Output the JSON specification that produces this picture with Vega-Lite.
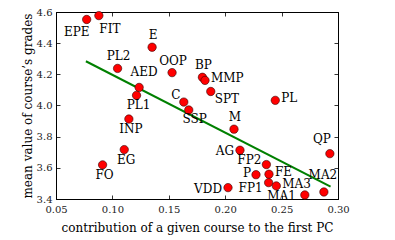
{
  "$schema": "https://vega.github.io/schema/vega-lite/v6.json",
  "width": 282,
  "height": 187,
  "autosize": "none",
  "padding": {"left": 56, "top": 12, "right": 57, "bottom": 41},
  "background": "white",
  "config": {
    "view": {"stroke": "black", "strokeWidth": 1},
    "font": "DejaVu Serif",
    "axis": {
      "grid": false,
      "domainColor": "black",
      "domainWidth": 1,
      "tickColor": "black",
      "tickSize": -4,
      "tickWidth": 0.8,
      "labelFont": "DejaVu Serif",
      "labelFontSize": 10,
      "labelColor": "#222",
      "labelFlush": false,
      "labelOverlap": false,
      "titleFont": "DejaVu Serif",
      "titleFontSize": 12,
      "titleFontWeight": "normal",
      "titleColor": "black"
    }
  },
  "datasets": {
    "courses": [
      {"course": "EPE", "contribution": 0.0772, "grade": 4.552},
      {"course": "FIT", "contribution": 0.0880, "grade": 4.577},
      {"course": "E", "contribution": 0.1352, "grade": 4.374},
      {"course": "PL2", "contribution": 0.1046, "grade": 4.238},
      {"course": "OOP", "contribution": 0.1529, "grade": 4.211},
      {"course": "AED", "contribution": 0.1237, "grade": 4.116},
      {"course": "PL1", "contribution": 0.1214, "grade": 4.065},
      {"course": "C", "contribution": 0.1633, "grade": 4.022},
      {"course": "SSP", "contribution": 0.1677, "grade": 3.971},
      {"course": "BP", "contribution": 0.1798, "grade": 4.181},
      {"course": "MMP", "contribution": 0.1821, "grade": 4.161},
      {"course": "SPT", "contribution": 0.1872, "grade": 4.090},
      {"course": "PL", "contribution": 0.2444, "grade": 4.033},
      {"course": "INP", "contribution": 0.1146, "grade": 3.913},
      {"course": "EG", "contribution": 0.1105, "grade": 3.717},
      {"course": "FO", "contribution": 0.0913, "grade": 3.619},
      {"course": "M", "contribution": 0.2078, "grade": 3.848},
      {"course": "QP", "contribution": 0.2928, "grade": 3.691},
      {"course": "AG", "contribution": 0.2131, "grade": 3.713},
      {"course": "FP2", "contribution": 0.2365, "grade": 3.621},
      {"course": "P", "contribution": 0.2273, "grade": 3.556},
      {"course": "FE", "contribution": 0.2388, "grade": 3.559},
      {"course": "FP1", "contribution": 0.2385, "grade": 3.505},
      {"course": "MA3", "contribution": 0.2453, "grade": 3.484},
      {"course": "MA1", "contribution": 0.2706, "grade": 3.426},
      {"course": "MA2", "contribution": 0.2875, "grade": 3.445},
      {"course": "VDD", "contribution": 0.2025, "grade": 3.473}
    ],
    "fit": [
      {"contribution": 0.0765, "grade": 4.284},
      {"contribution": 0.2934, "grade": 3.479}
    ]
  },
  "resolve": {"axis": {"x": "independent", "y": "independent"}},
  "layer": [
    {
      "data": {"name": "fit"},
      "mark": {"type": "line", "color": "#008000", "strokeWidth": 2},
      "encoding": {
        "x": {"field": "contribution", "type": "quantitative",
              "scale": {"domain": [0.05, 0.3], "nice": false, "zero": false},
              "axis": {"orient": "top", "labels": false, "title": null, "values": [0.05, 0.1, 0.15, 0.2, 0.25, 0.3]}},
        "y": {"field": "grade", "type": "quantitative",
              "scale": {"domain": [3.4, 4.6], "nice": false, "zero": false},
              "axis": {"orient": "right", "labels": false, "title": null, "values": [3.4, 3.6, 3.8, 4.0, 4.2, 4.4, 4.6]}}
      }
    },
    {
      "data": {"name": "courses"},
      "mark": {"type": "circle", "color": "#ff0000", "stroke": "#330000", "strokeWidth": 0.6, "size": 70, "opacity": 1},
      "encoding": {
        "x": {"field": "contribution", "type": "quantitative",
              "scale": {"domain": [0.05, 0.3], "nice": false, "zero": false},
              "axis": {"orient": "bottom", "format": ".2f", "values": [0.05, 0.1, 0.15, 0.2, 0.25, 0.3], "labelPadding": 9, "title": "contribution of a given course to the first PC", "titlePadding": 8}},
        "y": {"field": "grade", "type": "quantitative",
              "scale": {"domain": [3.4, 4.6], "nice": false, "zero": false},
              "axis": {"orient": "left", "format": ".1f", "values": [3.4, 3.6, 3.8, 4.0, 4.2, 4.4, 4.6], "labelPadding": 8, "title": "mean value of course\u2019s grades", "titlePadding": 2}}
      }
    },
    {
      "data": {"name": "courses"},
      "transform": [{"filter": {"field": "course", "oneOf": ["PL1", "INP", "EG", "FO"]}}],
      "mark": {"type": "text", "dx": 2, "dy": 10, "align": "center", "baseline": "middle", "fontSize": 12, "font": "DejaVu Serif", "color": "black"},
      "encoding": {"x": {"field": "contribution", "type": "quantitative", "axis": null}, "y": {"field": "grade", "type": "quantitative", "axis": null}, "text": {"field": "course"}}
    },
    {
      "data": {"name": "courses"},
      "transform": [{"filter": {"field": "course", "oneOf": ["PL2", "OOP", "BP", "M", "E"]}}],
      "mark": {"type": "text", "dx": 1, "dy": -12, "align": "center", "baseline": "middle", "fontSize": 12, "font": "DejaVu Serif", "color": "black"},
      "encoding": {"x": {"field": "contribution", "type": "quantitative", "axis": null}, "y": {"field": "grade", "type": "quantitative", "axis": null}, "text": {"field": "course"}}
    },
    {
      "data": {"name": "courses"},
      "transform": [{"filter": {"field": "course", "oneOf": ["MMP", "PL", "FE", "MA3"]}}],
      "mark": {"type": "text", "dx": 6, "dy": -2, "align": "left", "baseline": "middle", "fontSize": 12, "font": "DejaVu Serif", "color": "black"},
      "encoding": {"x": {"field": "contribution", "type": "quantitative", "axis": null}, "y": {"field": "grade", "type": "quantitative", "axis": null}, "text": {"field": "course"}}
    },
    {
      "data": {"name": "courses"},
      "transform": [{"filter": {"field": "course", "oneOf": ["AG", "VDD"]}}],
      "mark": {"type": "text", "dx": -6, "dy": 1, "align": "right", "baseline": "middle", "fontSize": 12, "font": "DejaVu Serif", "color": "black"},
      "encoding": {"x": {"field": "contribution", "type": "quantitative", "axis": null}, "y": {"field": "grade", "type": "quantitative", "axis": null}, "text": {"field": "course"}}
    },
    {
      "data": {"name": "courses"},
      "transform": [{"filter": {"field": "course", "equal": "FP2"}}],
      "mark": {"type": "text", "dx": -5, "dy": -4.5, "align": "right", "baseline": "middle", "fontSize": 12, "font": "DejaVu Serif", "color": "black"},
      "encoding": {"x": {"field": "contribution", "type": "quantitative", "axis": null}, "y": {"field": "grade", "type": "quantitative", "axis": null}, "text": {"field": "course"}}
    },
    {
      "data": {"name": "courses"},
      "transform": [{"filter": {"field": "course", "equal": "P"}}],
      "mark": {"type": "text", "dx": -5, "dy": -1.5, "align": "right", "baseline": "middle", "fontSize": 12, "font": "DejaVu Serif", "color": "black"},
      "encoding": {"x": {"field": "contribution", "type": "quantitative", "axis": null}, "y": {"field": "grade", "type": "quantitative", "axis": null}, "text": {"field": "course"}}
    },
    {
      "data": {"name": "courses"},
      "transform": [{"filter": {"field": "course", "equal": "FP1"}}],
      "mark": {"type": "text", "dx": -6, "dy": 5, "align": "right", "baseline": "middle", "fontSize": 12, "font": "DejaVu Serif", "color": "black"},
      "encoding": {"x": {"field": "contribution", "type": "quantitative", "axis": null}, "y": {"field": "grade", "type": "quantitative", "axis": null}, "text": {"field": "course"}}
    },
    {
      "data": {"name": "courses"},
      "transform": [{"filter": {"field": "course", "equal": "MA1"}}],
      "mark": {"type": "text", "dx": -9, "dy": 1, "align": "right", "baseline": "middle", "fontSize": 12, "font": "DejaVu Serif", "color": "black"},
      "encoding": {"x": {"field": "contribution", "type": "quantitative", "axis": null}, "y": {"field": "grade", "type": "quantitative", "axis": null}, "text": {"field": "course"}}
    },
    {
      "data": {"name": "courses"},
      "transform": [{"filter": {"field": "course", "equal": "SPT"}}],
      "mark": {"type": "text", "dx": 4, "dy": 8, "align": "left", "baseline": "middle", "fontSize": 12, "font": "DejaVu Serif", "color": "black"},
      "encoding": {"x": {"field": "contribution", "type": "quantitative", "axis": null}, "y": {"field": "grade", "type": "quantitative", "axis": null}, "text": {"field": "course"}}
    },
    {
      "data": {"name": "courses"},
      "transform": [{"filter": {"field": "course", "equal": "SSP"}}],
      "mark": {"type": "text", "dx": 6, "dy": 9, "align": "center", "baseline": "middle", "fontSize": 12, "font": "DejaVu Serif", "color": "black"},
      "encoding": {"x": {"field": "contribution", "type": "quantitative", "axis": null}, "y": {"field": "grade", "type": "quantitative", "axis": null}, "text": {"field": "course"}}
    },
    {
      "data": {"name": "courses"},
      "transform": [{"filter": {"field": "course", "equal": "EPE"}}],
      "mark": {"type": "text", "dx": -10, "dy": 13, "align": "center", "baseline": "middle", "fontSize": 12, "font": "DejaVu Serif", "color": "black"},
      "encoding": {"x": {"field": "contribution", "type": "quantitative", "axis": null}, "y": {"field": "grade", "type": "quantitative", "axis": null}, "text": {"field": "course"}}
    },
    {
      "data": {"name": "courses"},
      "transform": [{"filter": {"field": "course", "equal": "FIT"}}],
      "mark": {"type": "text", "dx": 11, "dy": 13, "align": "center", "baseline": "middle", "fontSize": 12, "font": "DejaVu Serif", "color": "black"},
      "encoding": {"x": {"field": "contribution", "type": "quantitative", "axis": null}, "y": {"field": "grade", "type": "quantitative", "axis": null}, "text": {"field": "course"}}
    },
    {
      "data": {"name": "courses"},
      "transform": [{"filter": {"field": "course", "equal": "C"}}],
      "mark": {"type": "text", "dx": -8, "dy": -7, "align": "center", "baseline": "middle", "fontSize": 12, "font": "DejaVu Serif", "color": "black"},
      "encoding": {"x": {"field": "contribution", "type": "quantitative", "axis": null}, "y": {"field": "grade", "type": "quantitative", "axis": null}, "text": {"field": "course"}}
    },
    {
      "data": {"name": "courses"},
      "transform": [{"filter": {"field": "course", "equal": "AED"}}],
      "mark": {"type": "text", "dx": 5, "dy": -15, "align": "center", "baseline": "middle", "fontSize": 12, "font": "DejaVu Serif", "color": "black"},
      "encoding": {"x": {"field": "contribution", "type": "quantitative", "axis": null}, "y": {"field": "grade", "type": "quantitative", "axis": null}, "text": {"field": "course"}}
    },
    {
      "data": {"name": "courses"},
      "transform": [{"filter": {"field": "course", "equal": "QP"}}],
      "mark": {"type": "text", "dx": -8, "dy": -15, "align": "center", "baseline": "middle", "fontSize": 12, "font": "DejaVu Serif", "color": "black"},
      "encoding": {"x": {"field": "contribution", "type": "quantitative", "axis": null}, "y": {"field": "grade", "type": "quantitative", "axis": null}, "text": {"field": "course"}}
    },
    {
      "data": {"name": "courses"},
      "transform": [{"filter": {"field": "course", "equal": "MA2"}}],
      "mark": {"type": "text", "dx": -1, "dy": -17, "align": "center", "baseline": "middle", "fontSize": 12, "font": "DejaVu Serif", "color": "black"},
      "encoding": {"x": {"field": "contribution", "type": "quantitative", "axis": null}, "y": {"field": "grade", "type": "quantitative", "axis": null}, "text": {"field": "course"}}
    }
  ]
}
